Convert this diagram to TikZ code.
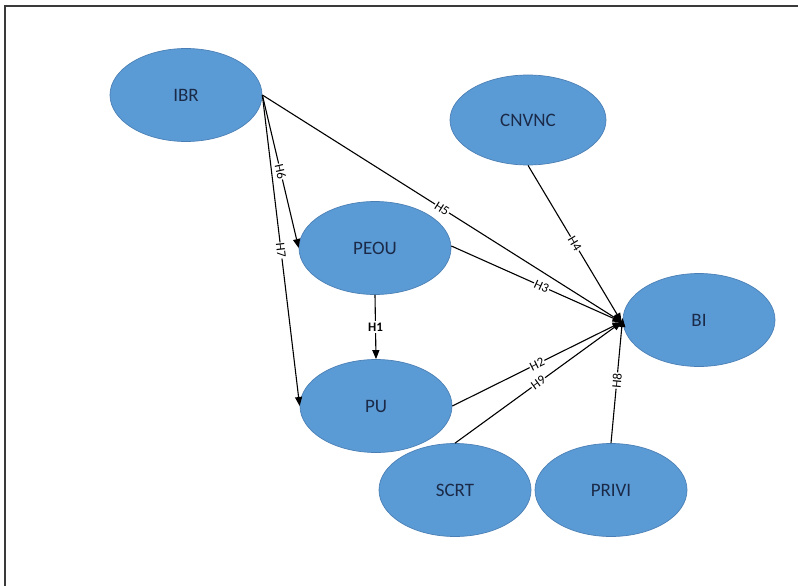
\documentclass[tikz,border=0pt]{standalone}
\usepackage{fontspec}
\setmainfont{Carlito}
\usetikzlibrary{shapes.geometric,arrows.meta}
\definecolor{construct}{HTML}{5B9BD5}
\definecolor{constructedge}{HTML}{4A7FB5}
\definecolor{constructtext}{HTML}{1A2A48}
\definecolor{frameline}{HTML}{3A3A3A}
\begin{document}
\begin{tikzpicture}[x=1pt,y=-1pt,
  latent/.style={ellipse,fill=construct,draw=constructedge,line width=0.7pt,
    minimum width=152pt,minimum height=93pt,inner sep=0pt,
    text=constructtext,font=\fontsize{19}{22}\selectfont},
  path/.style={draw=black,line width=1.1pt,-{Triangle[length=9pt,width=7pt]}},
  hyp/.style={fill=white,inner sep=0.8pt,font=\fontsize{13}{15}\selectfont,sloped,pos=0.5}]
  \useasboundingbox (0,0) rectangle (798,586);
  % page frame (only left and top edges fall inside the page)
  \draw[frameline,line width=2pt] (5,600) -- (5,6) -- (810,6);

  % constructs
  \node[latent] (ibr)   at (186,95)  {IBR};
  \node[latent,minimum width=156pt,minimum height=90pt] (cnvnc) at (528,120) {CNVNC};
  \node[latent] (peou)  at (375,248) {PEOU};
  \node[latent] (pu)    at (376,406) {PU};
  \node[latent] (bi)    at (699,320) {BI};
  \node[latent] (scrt)  at (455,490) {SCRT};
  \node[latent] (privi) at (611,490) {PRIVI};

  \coordinate (hub) at ([xshift=-1pt,yshift=-2pt]bi.west);

  % structural paths
  \draw[path] (ibr.east) -- node[hyp] {H6} (peou.west);
  \draw[path] (ibr.east) -- node[hyp] {H7} (pu.west);
  \draw[path] (ibr.east) -- node[hyp] {H5} (hub);
  \draw[path] (cnvnc.south) -- node[hyp] {H4} (hub);
  \draw[path] ([yshift=2pt]peou.east) -- node[hyp,pos=0.53] {H3} (hub);
  \draw[path] (peou.south) -- node[fill=white,inner sep=2pt,font=\fontsize{13}{15}\selectfont\bfseries] {H1} (pu.north);
  \draw[path] (pu.east) -- node[hyp] {H2} (hub);
  \draw[path] (scrt.north) -- node[hyp] {H9} (hub);
  \draw[path] (privi.north) -- node[hyp] {H8} ([yshift=2pt]bi.west);
\end{tikzpicture}
\end{document}
